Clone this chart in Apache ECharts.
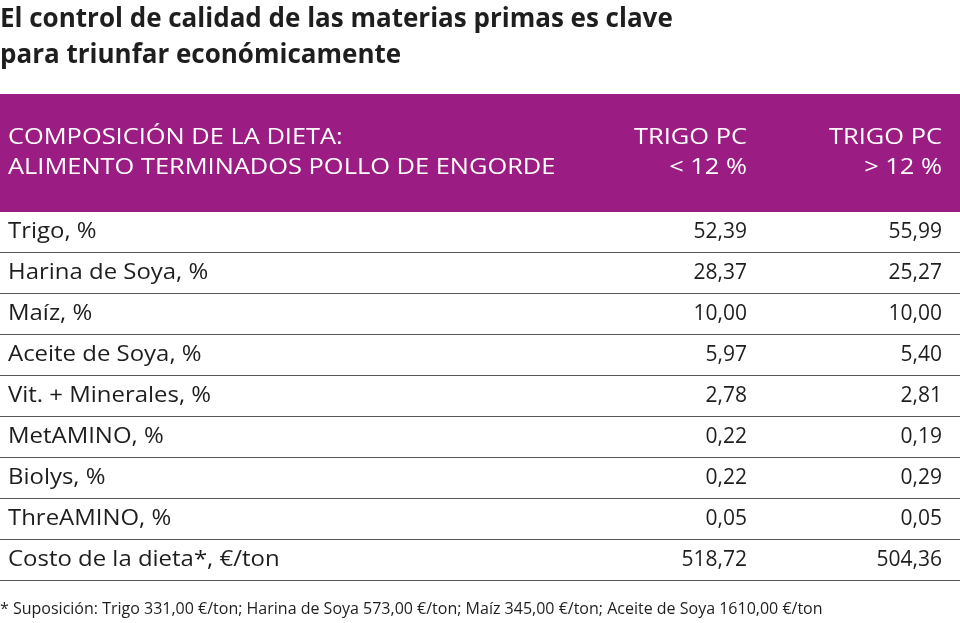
<!DOCTYPE html>
<html>
<head>
<meta charset="utf-8">
<script src="https://cdn.jsdelivr.net/npm/echarts@6/dist/echarts.min.js"></script>
<style>
html,body{margin:0;padding:0;background:#fff;}
#main{width:960px;height:623px;}
</style>
</head>
<body>
<div id="main"></div>
<script>
const titleText = 'El control de calidad de las materias primas es clave\npara triunfar económicamente';
const headerLabel = ['COMPOSICIÓN DE LA DIETA:', 'ALIMENTO TERMINADOS POLLO DE ENGORDE'];
const headerCol1 = ['TRIGO PC', '< 12 %'];
const headerCol2 = ['TRIGO PC', '> 12 %'];
const rowLabels = ['Trigo, %', 'Harina de Soya, %', 'Maíz, %', 'Aceite de Soya, %', 'Vit. + Minerales, %', 'MetAMINO, %', 'Biolys, %', 'ThreAMINO, %', 'Costo de la dieta*, €/ton'];
const trigoLow = [52.39, 28.37, 10.00, 5.97, 2.78, 0.22, 0.22, 0.05, 518.72];
const trigoHigh = [55.99, 25.27, 10.00, 5.40, 2.81, 0.19, 0.29, 0.05, 504.36];
const footnote = '* Suposición: Trigo 331,00 €/ton; Harina de Soya 573,00 €/ton; Maíz 345,00 €/ton; Aceite de Soya 1610,00 €/ton';

const fmt = v => v.toFixed(2).replace('.', ',');
const FONT = '"Open Sans", "Noto Sans", sans-serif';
const PURPLE = '#9b1d84';
const TEXT = '#1e1e1e';

const chart = echarts.init(document.getElementById('main'));
const rowData = rowLabels.map((l, i) => [i, trigoLow[i], trigoHigh[i]]);

const headerTexts = [];
[[headerLabel, 8, 'left'], [headerCol1, 747, 'right'], [headerCol2, 942, 'right']].forEach(([lines, x, align]) => {
  lines.forEach((t, k) => {
    headerTexts.push({type: 'text', x: x, y: 138 + 30 * k, scaleX: 1.21,
      style: {text: t, x: 0, y: 0, align: align, verticalAlign: 'middle', fill: '#fff', font: '21px ' + FONT}, z: 2});
  });
});

chart.setOption({
  animation: false,
  title: {
    text: titleText,
    left: 0, top: 0, padding: [2, 0, 0, 0],
    textStyle: {fontFamily: FONT, fontSize: 26, fontWeight: 'bold', color: TEXT, lineHeight: 36}
  },
  grid: {left: 0, right: 0, top: 212, height: 369},
  xAxis: {type: 'value', min: 0, max: 960, show: false},
  yAxis: {type: 'category', data: rowLabels, inverse: true, show: false},
  graphic: [
    {type: 'rect', shape: {x: 0, y: 94, width: 960, height: 118}, style: {fill: PURPLE}, z: 0}
  ].concat(headerTexts).concat([
    {type: 'text', style: {text: footnote, x: 0, y: 609, verticalAlign: 'middle', fill: TEXT, font: '16px ' + FONT}}
  ]),
  series: [{
    type: 'custom',
    data: rowData,
    encode: {x: 1, y: 0},
    renderItem: function (params, api) {
      const idx = api.value(0);
      const c = api.coord([0, idx]);
      const h = api.size([0, 1])[1];
      const yc = c[1];
      const yb = Math.round(yc + h / 2) - 0.5;
      const xL = api.coord([8, idx])[0];
      const x1 = api.coord([747, idx])[0];
      const x2 = api.coord([942, idx])[0];
      const xE = api.coord([960, idx])[0];
      const font = '21px ' + FONT;
      return {
        type: 'group',
        children: [
          {type: 'text', x: xL, y: yc, scaleX: 1.14, style: {text: rowLabels[idx], x: 0, y: 0, verticalAlign: 'middle', align: 'left', font: font, fill: TEXT}},
          {type: 'text', style: {text: fmt(api.value(1)), x: x1, y: yc, verticalAlign: 'middle', align: 'right', font: font, fill: TEXT}},
          {type: 'text', style: {text: fmt(api.value(2)), x: x2, y: yc, verticalAlign: 'middle', align: 'right', font: font, fill: TEXT}},
          {type: 'line', shape: {x1: c[0], y1: yb, x2: xE, y2: yb}, style: {stroke: '#555', lineWidth: 1}}
        ]
      };
    }
  }]
});
</script>
</body>
</html>
